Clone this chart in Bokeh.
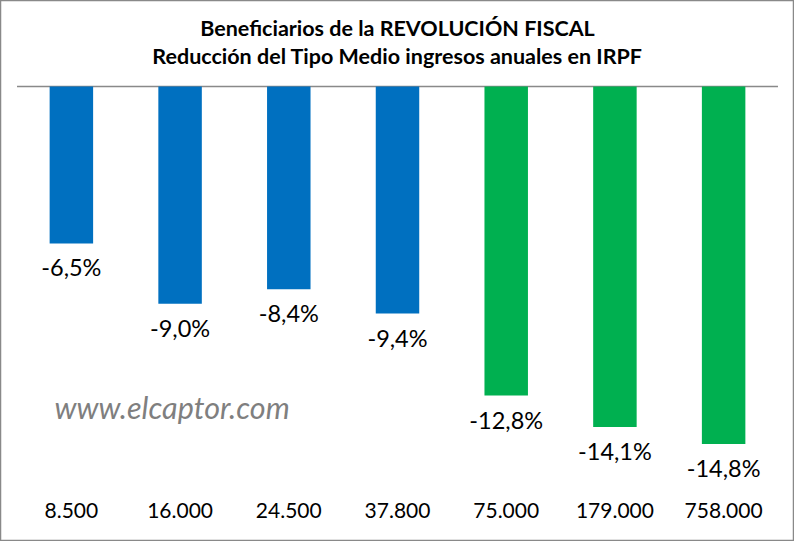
from bokeh.plotting import figure
from bokeh.models import FactorRange, Range1d, Label, ColumnDataSource
from bokeh.core.properties import value
from bokeh.embed import file_html
from bokeh.resources import INLINE

# ---- data ----
categories = ["8.500", "16.000", "24.500", "37.800", "75.000", "179.000", "758.000"]
reduction = [-6.5, -9.0, -8.4, -9.4, -12.8, -14.1, -14.8]
bar_colors = ["#0070C0", "#0070C0", "#0070C0", "#0070C0", "#00B050", "#00B050", "#00B050"]
value_labels = [("%.1f%%" % v).replace(".", ",") for v in reduction]
title_lines = ["Beneficiarios de la REVOLUCIÓN FISCAL",
               "Reducción del Tipo Medio ingresos anuales en IRPF"]
watermark = "www.elcaptor.com"

# ---- layout ----
W, H = 794, 541
PX_PER_UNIT = 24.15
BASE_Y = 86
y_top = BASE_Y / PX_PER_UNIT
y_bottom = -(H - BASE_Y) / PX_PER_UNIT
CAT_LABEL_Y = -(510 - BASE_Y) / PX_PER_UNIT
PAD = 0.152
FONT = "Lato"

p = figure(width=W, height=H,
           x_range=FactorRange(factors=categories, range_padding=PAD,
                               range_padding_units="absolute"),
           y_range=Range1d(y_bottom, y_top),
           output_backend="svg", toolbar_location=None,
           x_axis_location=None, y_axis_location=None,
           title_location=None, min_border=0)
p.grid.visible = False
p.outline_line_color = "#898989"
p.outline_line_width = 1.5
p.background_fill_color = "white"
p.border_fill_color = "white"

src = ColumnDataSource(dict(cat=categories, val=reduction, color=bar_colors, label=value_labels))

# baseline across the category area (synthetic coordinates 0..n)
p.segment(x0=0, y0=0, x1=len(categories), y1=0,
          line_color="#898989", line_width=1.3)

p.vbar(x="cat", top=0, bottom="val", width=0.4, fill_color="color",
       line_color=None, source=src)

p.text(x="cat", y="val", text="label", source=src, text_align="center",
       text_baseline="alphabetic", y_offset=24, text_font=value(FONT),
       text_font_size="23.5px", text_color="black")

p.text(x="cat", y=CAT_LABEL_Y, text="cat", source=src, text_align="center",
       text_baseline="alphabetic", text_font=value(FONT),
       text_font_size="21px", text_color="black")

for txt, yb in zip(title_lines, [27, 55.7]):
    p.add_layout(Label(x=W / 2, y=H - yb, x_units="screen", y_units="screen",
                       text=txt, text_align="center", text_baseline="alphabetic",
                       text_font=FONT, text_font_style="bold",
                       text_font_size="21.5px", text_color="black"))

p.add_layout(Label(x=54, y=H - 406, x_units="screen", y_units="screen",
                   text=watermark, text_align="left", text_baseline="alphabetic",
                   text_font=FONT, text_font_style="italic",
                   text_font_size="30.5px", text_color="#7f7f7f"))

open("out.html", "w").write(file_html(p, INLINE))
